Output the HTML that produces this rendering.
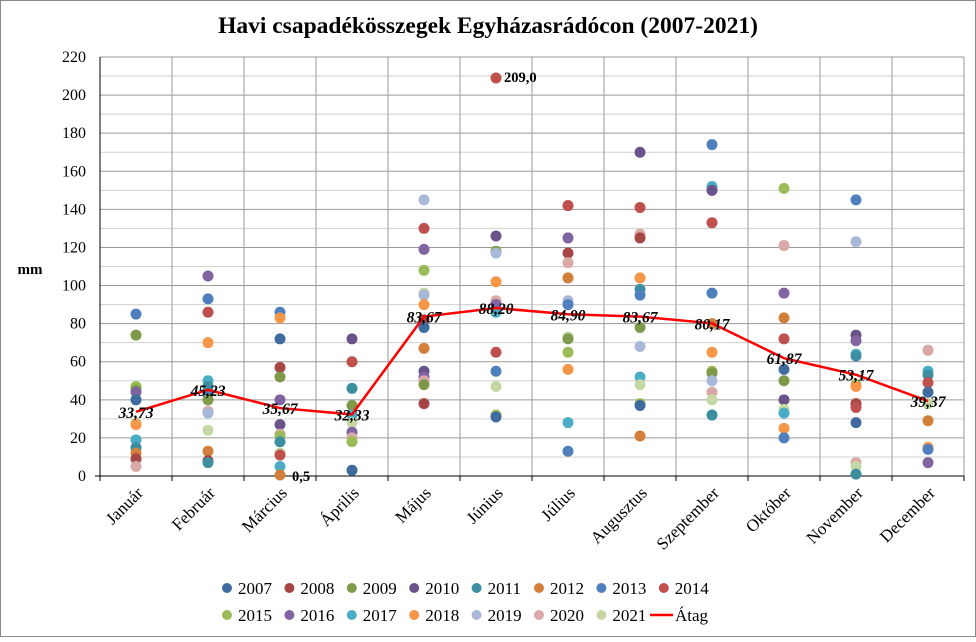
<!DOCTYPE html>
<html><head><meta charset="utf-8"><style>
html,body{margin:0;padding:0;background:#fff}
svg text{font-family:"Liberation Serif",serif}
</style></head><body>
<svg id="s" width="976" height="637" xmlns="http://www.w3.org/2000/svg">
<rect x="0.5" y="0.5" width="975" height="636" fill="#fff" stroke="#888"/>
<text x="488" y="33" text-anchor="middle" font-size="23.5" font-weight="bold">Havi csapadékösszegek Egyházasrádócon (2007-2021)</text>
<text x="30" y="274" text-anchor="middle" font-size="15" font-weight="bold">mm</text>
<g id="g"></g>
</svg>
<script>
const g=document.getElementById('g');let h='';
const X0=100,W=72,Y0=476,K=419/220;
const y=v=>Y0-v*K;
for(let v=10;v<=220;v+=10){h+=`<line x1="${X0}" x2="964" y1="${y(v)}" y2="${y(v)}" stroke="${v%20?'#d0d0d0':'#9a9a9a'}" stroke-width="1"/>`;}
for(let v=0;v<=220;v+=20)h+=`<text x="86" y="${y(v)+5}" text-anchor="end" font-size="16">${v}</text>`;
for(let i=1;i<=12;i++)h+=`<line x1="${X0+i*W}" x2="${X0+i*W}" y1="${y(220)}" y2="${Y0}" stroke="#9a9a9a"/>`;
h+=`<line x1="${X0}" x2="${X0}" y1="${y(220)}" y2="${Y0+5}" stroke="#000"/><line x1="${X0-5}" x2="964" y1="${Y0}" y2="${Y0}" stroke="#000"/>`;
for(let i=0;i<=12;i++)h+=`<line x1="${X0+i*W}" x2="${X0+i*W}" y1="${Y0}" y2="${Y0+5}" stroke="#000"/>`;
const M=['Január','Február','Március','Április','Május','Június','Július','Augusztus','Szeptember','Október','November','December'];
M.forEach((m,i)=>{const cx=X0+W*i+W/2+8;h+=`<text transform="translate(${cx},494) rotate(-45)" text-anchor="end" font-size="17">${m}</text>`;});
const C={7:'#3f6b9e',8:'#a54544',9:'#7f994a',10:'#68538a',11:'#3d8fa0',12:'#d17f3a',13:'#4f80bd',14:'#c0504d',15:'#9bbb59',16:'#8064a2',17:'#4bacc6',18:'#f79646',19:'#a9b8d8',20:'#dba8a8',21:'#c5d8a4'};
const D=[
[[85,13],[74,9],[47,15],[45,9],[44,16],[40,7],[28,21],[27,18],[19,17],[15,11],[12,12],[9,8],[5,20]],
[[105,16],[93,13],[86,14],[70,18],[50,17],[47,11],[43,13],[40,9],[34,20],[33,19],[24,21],[13,12],[8,8],[7,11]],
[[86,13],[83,18],[72,7],[57,8],[52,9],[40,16],[27,10],[22,20],[21,15],[18,11],[12,21],[11,14],[5,17],[0.5,12]],
[[72,10],[60,14],[46,11],[37,9],[32,17],[28,21],[23,16],[20,20],[18,15],[3,7]],
[[145,19],[130,14],[119,16],[108,15],[96,21],[95,19],[90,18],[82,8],[78,7],[67,12],[55,10],[52,16],[50,20],[48,9],[38,8]],
[[209,14],[126,10],[118,9],[117,19],[102,18],[92,20],[90,16],[86,17],[65,14],[55,13],[47,21],[32,15],[31,7]],
[[142,14],[125,16],[117,8],[112,20],[104,12],[92,19],[90,13],[73,21],[72,9],[65,15],[56,18],[28,17],[13,13]],
[[170,10],[141,14],[127,20],[125,8],[104,18],[98,11],[95,13],[78,9],[68,19],[52,17],[48,21],[38,15],[37,7],[21,12]],
[[174,13],[152,17],[150,10],[133,14],[96,13],[80,12],[65,18],[55,15],[54,9],[50,19],[44,20],[40,21],[32,11]],
[[151,15],[121,20],[96,16],[83,12],[72,14],[56,7],[50,9],[40,10],[35,21],[33,17],[25,18],[20,13]],
[[145,13],[123,19],[74,10],[71,16],[64,17],[63,11],[48,15],[47,18],[38,8],[36,14],[28,7],[7,20],[5,21],[1,11]],
[[66,19],[66,20],[55,17],[53,11],[49,14],[44,7],[38,21],[29,12],[15,18],[14,13],[7,16]]];
D.forEach((a,i)=>{const cx=X0+W*i+W/2;a.forEach(([v,c])=>h+=`<circle cx="${cx}" cy="${y(v)}" r="5.5" fill="${C[c]}"/>`);});
const A=[33.73,45.23,35.67,32.33,83.67,88.20,84.90,83.67,80.17,61.87,53.17,39.37];
h+=`<polyline fill="none" stroke="#f00" stroke-width="2.5" points="${A.map((v,i)=>(X0+W*i+W/2)+','+y(v)).join(' ')}"/>`;
A.forEach((v,i)=>h+=`<text x="${X0+W*i+W/2}" y="${y(v)+6}" text-anchor="middle" font-size="15.5" font-weight="bold" font-style="italic">${v.toFixed(2).replace('.',',')}</text>`);
h+=`<text x="292" y="481" font-size="14.5" font-weight="bold">0,5</text><text x="504" y="82" font-size="14.5" font-weight="bold">209,0</text>`;
for(let k=0;k<15;k++){const r=k<8?0:1,j=k%8,cx=227+j*62.4,cy=r?615:588;
h+=`<circle cx="${cx}" cy="${cy}" r="5" fill="${C[k+7]}"/><text x="${cx+11}" y="${cy+6}" font-size="17">${2007+k}</text>`;}
h+=`<line x1="650" x2="673" y1="615" y2="615" stroke="#f00" stroke-width="2.5"/><text x="675" y="621" font-size="17">Átag</text>`;
g.innerHTML=h;
</script>
</body></html>
